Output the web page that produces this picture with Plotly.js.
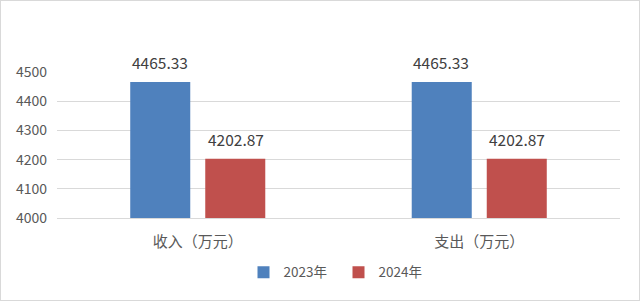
<!DOCTYPE html>
<html>
<head>
<meta charset="utf-8">
<script src="https://cdn.plot.ly/plotly-3.0.1.min.js"></script>
<style>
html,body{margin:0;padding:0;background:#fff;}
#chart{width:638px;height:299px;border:1px solid #d9d9d9;}
</style>
</head>
<body>
<div id="chart"></div>
<script>
const categories = ["收入（万元）", "支出（万元）"];
const seriesNames = ["2023年", "2024年"];
const series2023 = [4465.33, 4465.33];
const series2024 = [4202.87, 4202.87];
const yTicks = [4000, 4100, 4200, 4300, 4400, 4500];

const font = "'Noto Sans CJK SC', 'Microsoft YaHei', sans-serif";
const colors = ["#4f81bd", "#c0504d"];
const allSeries = [series2023, series2024];

const traces = allSeries.map((vals, i) => ({
  type: "bar",
  name: seriesNames[i],
  x: categories,
  y: vals,
  marker: {color: colors[i]},
  hoverinfo: "none"
}));

const annotations = [];
allSeries.forEach((vals, i) => {
  vals.forEach((v, j) => {
    annotations.push({
      x: categories[j], y: v, xref: "x", yref: "y",
      text: v.toFixed(2), showarrow: false,
      xshift: i === 0 ? -38 : 38, yshift: 20, yanchor: "middle",
      font: {family: font, size: 15.5, color: "#404040"}
    });
  });
});

const layout = {
  width: 638, height: 299,
  margin: {l: 56, r: 19, t: 71, b: 82},
  paper_bgcolor: "#fff", plot_bgcolor: "#fff",
  barmode: "group", bargap: 0.467, bargroupgap: 0.2,
  showlegend: true,
  legend: {orientation: "h", x: 0.5, xanchor: "center", y: -0.373, yanchor: "middle",
    font: {family: font, size: 13.5, color: "#595959"}, itemwidth: 30,
    entrywidth: 50, entrywidthmode: "pixels", traceorder: "normal"},
  xaxis: {
    type: "category", showgrid: false, zeroline: false,
    showline: true, linecolor: "#d9d9d9", linewidth: 1,
    ticks: "", ticklabelstandoff: 10,
    tickfont: {family: font, size: 15, color: "#595959"}
  },
  yaxis: {
    range: [4000, 4500], tickvals: yTicks, ticktext: yTicks.map(String),
    showgrid: true, gridcolor: "#d9d9d9", gridwidth: 1, zeroline: false,
    showline: false, ticks: "", ticklabelstandoff: 9,
    tickfont: {family: font, size: 14, color: "#595959"}
  },
  annotations: annotations
};

Plotly.newPlot("chart", traces, layout, {displayModeBar: false, staticPlot: true});
</script>
</body>
</html>
